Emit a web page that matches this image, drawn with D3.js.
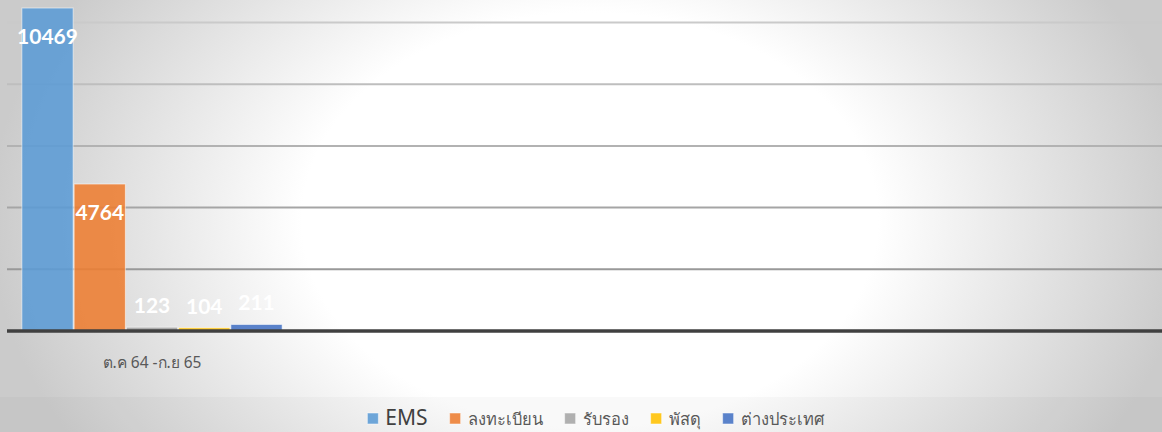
<!DOCTYPE html>
<html>
<head>
<meta charset="utf-8">
<script src="https://cdn.jsdelivr.net/npm/d3@7"></script>
<style>
  html, body { margin: 0; padding: 0; overflow: hidden; background: #fff; }
  svg { display: block; }
</style>
</head>
<body>
<svg id="chart" width="1162" height="432"></svg>
<script>
// ---- data ----
const categories = ["ต.ค 64 -ก.ย 65"];
const seriesNames = ["EMS", "ลงทะเบียน", "รับรอง", "พัสดุ", "ต่างประเทศ"];
const seriesValues = [10469, 4764, 123, 104, 211];
const seriesColors = ["#5b9bd5", "#ed7d31", "#a5a5a5", "#ffc000", "#4472c4"];
const yTicks = [0, 2000, 4000, 6000, 8000, 10000, 12000];

const W = 1162, H = 432;
const svg = d3.select("#chart");
const defs = svg.append("defs");

// background gradient
const rg = defs.append("radialGradient").attr("id", "bg")
  .attr("gradientUnits", "userSpaceOnUse")
  .attr("cx", 590).attr("cy", 220).attr("r", 600)
  .attr("gradientTransform", "translate(590,220) scale(1,0.72) translate(-590,-220)");
rg.append("stop").attr("offset", "0").attr("stop-color", "#ffffff");
rg.append("stop").attr("offset", "0.48").attr("stop-color", "#ffffff");
rg.append("stop").attr("offset", "1").attr("stop-color", "#cbcbcb");
svg.append("rect").attr("width", W).attr("height", H).attr("fill", "url(#bg)");
svg.append("rect").attr("x", 0).attr("y", 397).attr("width", W).attr("height", H - 397)
  .attr("fill", "#000").attr("opacity", 0.025);

// scales
const plotLeft = 7, plotRight = W, baseY = 331;
const x0 = d3.scaleBand().domain(categories).range([plotLeft, plotLeft + 290]).paddingInner(0).paddingOuter(0.055);
const x1 = d3.scaleBand().domain(seriesNames).range([0, x0.bandwidth()]).padding(0);
const y = d3.scaleLinear().domain([0, 12000]).range([baseY, baseY - 12000 * (308.5 / 10000)]);

// gridlines
const gridColor = d3.scaleLinear().domain([2000, 10000]).range(["#999999", "#cacaca"]);
const grid = svg.append("g");
grid.selectAll("line").data(yTicks.filter(t => t > 0)).join("line")
  .attr("x1", plotLeft).attr("x2", plotRight)
  .attr("y1", d => y(d)).attr("y2", d => y(d))
  .attr("stroke", d => gridColor(d)).attr("stroke-width", 2);

// bars
const g = svg.append("g");
categories.forEach((cat, ci) => {
  const rows = seriesNames.map((s, i) => ({ s, i, v: seriesValues[i] }));
  g.selectAll(null).data(rows).join("rect")
    .attr("x", d => x0(cat) + x1(d.s) + 0.5)
    .attr("width", x1.bandwidth() - 1)
    .attr("y", d => y(d.v))
    .attr("height", d => baseY - y(d.v))
    .attr("fill", d => seriesColors[d.i])
    .attr("fill-opacity", 0.88)
    .attr("stroke", "#ffffff").attr("stroke-opacity", 0.55).attr("stroke-width", 1);

  g.selectAll(null).data(rows).join("text")
    .attr("x", d => x0(cat) + x1(d.s) + x1.bandwidth() / 2)
    .attr("y", d => (baseY - y(d.v) > 60) ? y(d.v) + 36 : y(d.v) - 14)
    .attr("text-anchor", "middle")
    .attr("font-family", "Lato, 'Open Sans', sans-serif")
    .attr("font-weight", "bold")
    .attr("font-size", 21)
    .attr("fill", "#ffffff")
    .text(d => d.v);
});

// category axis
const xAxis = d3.axisBottom(x0).tickSize(0).tickPadding(0);
const ax = svg.append("g").attr("transform", `translate(0,${baseY})`).call(xAxis);
ax.select(".domain").remove();
ax.selectAll("text")
  .attr("dy", 0).attr("y", 37)
  .attr("font-family", "'Noto Sans', Lato, sans-serif")
  .attr("font-size", 15.5).attr("fill", "#595959");
svg.append("line").attr("x1", plotLeft).attr("x2", plotRight)
  .attr("y1", baseY).attr("y2", baseY)
  .attr("stroke", "#404040").attr("stroke-width", 3.5);

// legend
const leg = svg.append("g");
const items = leg.selectAll("g").data(seriesNames).join("g");
items.append("rect").attr("width", 11).attr("height", 11).attr("y", -11)
  .attr("fill", (d, i) => seriesColors[i]).attr("fill-opacity", 0.88)
  .attr("stroke", "#fff").attr("stroke-opacity", 0.5);
items.append("text").attr("x", 18).attr("y", 1)
  .attr("font-family", "'Noto Sans', Lato, sans-serif")
  .attr("font-size", (d, i) => i === 0 ? 21 : 16.5)
  .attr("fill", (d, i) => i === 0 ? "#404040" : "#595959")
  .text(d => d);
let cx = 0;
const pos = [];
items.each(function (d, i) {
  const w = 18 + d3.select(this).select("text").node().getComputedTextLength();
  pos.push(cx);
  cx += w + 22;
});
const total = cx - 22;
const startX = 595.5 - total / 2;
items.attr("transform", (d, i) => `translate(${startX + pos[i]},424)`);
</script>
</body>
</html>
